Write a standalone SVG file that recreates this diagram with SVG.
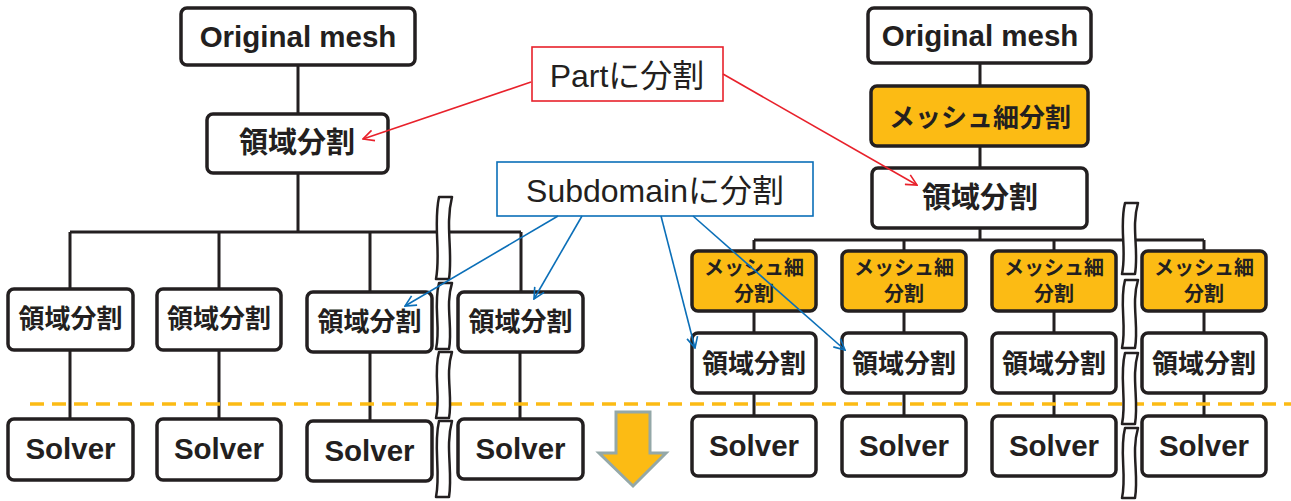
<svg xmlns="http://www.w3.org/2000/svg" width="1291" height="501" viewBox="0 0 1291 501">
<style>
.box{fill:#fff;stroke:#231f20;stroke-width:3.5}
.obox{fill:#fcbb14;stroke:#231f20;stroke-width:3.5}
.ln{stroke:#231f20;stroke-width:3;fill:none}
.t{font-family:"Liberation Sans","Noto Sans CJK JP",sans-serif;font-weight:bold;fill:#231f20;text-anchor:middle}
.lat{font-size:29.5px}
.lab{font-family:"Liberation Sans","Noto Sans CJK JP",sans-serif;font-size:32px;fill:#231f20;text-anchor:middle}
.wave{fill:#fff;stroke:#231f20;stroke-width:2.5;stroke-linejoin:round}
.red{stroke:#e8212b;stroke-width:1.6;fill:none}
.blue{stroke:#0b6fb8;stroke-width:1.6;fill:none}
</style>
<defs>
<marker id="ar" viewBox="0 0 12 12" refX="11" refY="6" markerWidth="13" markerHeight="13" markerUnits="userSpaceOnUse" orient="auto"><path d="M1,1 L11,6 L1,11" fill="none" stroke="#e8212b" stroke-width="1.5"/></marker>
<marker id="ab" viewBox="0 0 12 12" refX="11" refY="6" markerWidth="13" markerHeight="13" markerUnits="userSpaceOnUse" orient="auto"><path d="M1,1 L11,6 L1,11" fill="none" stroke="#0b6fb8" stroke-width="1.5"/></marker>
</defs>

<g id="connectors">
<path class="ln" d="M298,65 V114 M298,173 V232 M70,232 H521 M70,232 V289 M219,232 V289 M370,232 V292 M521,232 V292"/>
<path class="ln" d="M70,350 V419 M219,350 V419 M370,352 V421 M520,352 V419"/>
<path class="ln" d="M980,63 V86 M980,146 V168 M980,228 V240 M754,240 H1204 M754,240 V251 M904,240 V251 M1054,240 V251 M1204,240 V251"/>
<path class="ln" d="M754,311 V333 M904,311 V333 M1054,311 V333 M1204,311 V333 M754,393 V416 M904,393 V416 M1054,393 V416 M1204,393 V416"/>
</g>

<line id="dash" x1="30" y1="404" x2="1291" y2="404" stroke="#fcbb14" stroke-width="3.5" stroke-dasharray="14 8"/>

<g id="left-original"><rect class="box" x="181" y="8" width="234" height="57" rx="6"/><text class="t lat" x="298" y="47">Original mesh</text></g>
<g id="left-split"><rect class="box" x="207" y="114" width="181" height="59" rx="6"/><text class="t" x="297" y="153" font-size="29">領域分割</text></g>

<g id="l-d1"><rect class="box" x="8" y="289" width="125" height="61" rx="6"/><text class="t" x="70.5" y="328" font-size="26">領域分割</text></g>
<g id="l-d2"><rect class="box" x="157" y="289" width="124" height="61" rx="6"/><text class="t" x="219" y="328" font-size="26">領域分割</text></g>
<g id="l-d3"><rect class="box" x="307" y="292" width="125" height="60" rx="6"/><text class="t" x="369.5" y="331" font-size="26">領域分割</text></g>
<g id="l-d4"><rect class="box" x="458" y="292" width="125" height="60" rx="6"/><text class="t" x="520.5" y="331" font-size="26">領域分割</text></g>

<g id="l-s1"><rect class="box" x="8" y="419" width="125" height="61" rx="6"/><text class="t lat" x="70.5" y="459">Solver</text></g>
<g id="l-s2"><rect class="box" x="157" y="419" width="124" height="61" rx="6"/><text class="t lat" x="219" y="459">Solver</text></g>
<g id="l-s3"><rect class="box" x="307" y="421" width="125" height="60" rx="6"/><text class="t lat" x="369.5" y="461">Solver</text></g>
<g id="l-s4"><rect class="box" x="458" y="419" width="125" height="60" rx="6"/><text class="t lat" x="520.5" y="459">Solver</text></g>

<g id="right-original"><rect class="box" x="868" y="8" width="223" height="55" rx="6"/><text class="t lat" x="980" y="46">Original mesh</text></g>
<g id="right-refine"><rect class="obox" x="871" y="86" width="217" height="60" rx="6"/><text class="t" x="980" y="127" font-size="26">メッシュ細分割</text></g>
<g id="right-split"><rect class="box" x="872" y="168" width="215" height="60" rx="6"/><text class="t" x="980" y="208" font-size="29">領域分割</text></g>

<g id="r-m1"><rect class="obox" x="692" y="251" width="124" height="60" rx="6"/><text class="t" x="754" y="275" font-size="20">メッシュ細</text><text class="t" x="754" y="301" font-size="20">分割</text></g>
<g id="r-m2"><rect class="obox" x="842" y="251" width="124" height="60" rx="6"/><text class="t" x="904" y="275" font-size="20">メッシュ細</text><text class="t" x="904" y="301" font-size="20">分割</text></g>
<g id="r-m3"><rect class="obox" x="992" y="251" width="124" height="60" rx="6"/><text class="t" x="1054" y="275" font-size="20">メッシュ細</text><text class="t" x="1054" y="301" font-size="20">分割</text></g>
<g id="r-m4"><rect class="obox" x="1142" y="251" width="124" height="60" rx="6"/><text class="t" x="1204" y="275" font-size="20">メッシュ細</text><text class="t" x="1204" y="301" font-size="20">分割</text></g>

<g id="r-d1"><rect class="box" x="692" y="333" width="124" height="60" rx="6"/><text class="t" x="754" y="373" font-size="26">領域分割</text></g>
<g id="r-d2"><rect class="box" x="842" y="333" width="124" height="60" rx="6"/><text class="t" x="904" y="373" font-size="26">領域分割</text></g>
<g id="r-d3"><rect class="box" x="992" y="333" width="124" height="60" rx="6"/><text class="t" x="1054" y="373" font-size="26">領域分割</text></g>
<g id="r-d4"><rect class="box" x="1142" y="333" width="124" height="60" rx="6"/><text class="t" x="1204" y="373" font-size="26">領域分割</text></g>

<g id="r-s1"><rect class="box" x="692" y="416" width="124" height="60" rx="6"/><text class="t lat" x="754" y="456">Solver</text></g>
<g id="r-s2"><rect class="box" x="842" y="416" width="124" height="60" rx="6"/><text class="t lat" x="904" y="456">Solver</text></g>
<g id="r-s3"><rect class="box" x="992" y="416" width="124" height="60" rx="6"/><text class="t lat" x="1054" y="456">Solver</text></g>
<g id="r-s4"><rect class="box" x="1142" y="416" width="124" height="60" rx="6"/><text class="t lat" x="1204" y="456">Solver</text></g>

<g id="break-left">
<path class="wave" d="M439,197 C433,225 441,252 436,279 L449,279 C453,252 445,225 452,197 Z"/>
<path class="wave" d="M439,283 C433,305 441,328 436,349 L449,349 C453,328 445,305 452,283 Z"/>
<path class="wave" d="M439,352 C433,374 441,397 436,418 L449,418 C453,397 445,374 452,352 Z"/>
<path class="wave" d="M439,421 C433,447 441,472 436,497 L449,497 C453,472 445,447 452,421 Z"/>
</g>
<g id="break-right">
<path class="wave" d="M1125,203 C1119,227 1127,250 1122,274 L1135,274 C1139,250 1131,227 1138,203 Z"/>
<path class="wave" d="M1125,280 C1119,303 1127,326 1122,348 L1135,348 C1139,326 1131,303 1138,280 Z"/>
<path class="wave" d="M1125,353 C1119,377 1127,400 1122,424 L1135,424 C1139,400 1131,377 1138,353 Z"/>
<path class="wave" d="M1125,428 C1119,452 1127,475 1122,498 L1135,498 C1139,475 1131,452 1138,428 Z"/>
</g>

<polygon id="down-arrow" points="616,412 650,412 650,453 666,453 633,486 599,453 616,453" fill="#fcbb14" stroke="#94a8a8" stroke-width="3" stroke-linejoin="miter"/>

<g id="label-part"><rect x="532" y="47" width="191" height="54" fill="#fff" stroke="#e8212b" stroke-width="1.6"/><text class="lab" x="627" y="87">Partに分割</text></g>
<g id="label-subdomain"><rect x="497" y="162" width="316" height="54" fill="#fff" stroke="#0b6fb8" stroke-width="1.6"/><text class="lab" x="655" y="202">Subdomainに分割</text></g>

<g id="annotation-arrows">
<line class="red" x1="531" y1="82" x2="363" y2="139" marker-end="url(#ar)"/>
<line class="red" x1="723" y1="74" x2="917" y2="185" marker-end="url(#ar)"/>
<line class="blue" x1="558" y1="216" x2="405" y2="306" marker-end="url(#ab)"/>
<line class="blue" x1="582" y1="216" x2="534" y2="299" marker-end="url(#ab)"/>
<line class="blue" x1="661" y1="216" x2="695" y2="348" marker-end="url(#ab)"/>
<line class="blue" x1="693" y1="216" x2="845" y2="350" marker-end="url(#ab)"/>
</g>
</svg>
